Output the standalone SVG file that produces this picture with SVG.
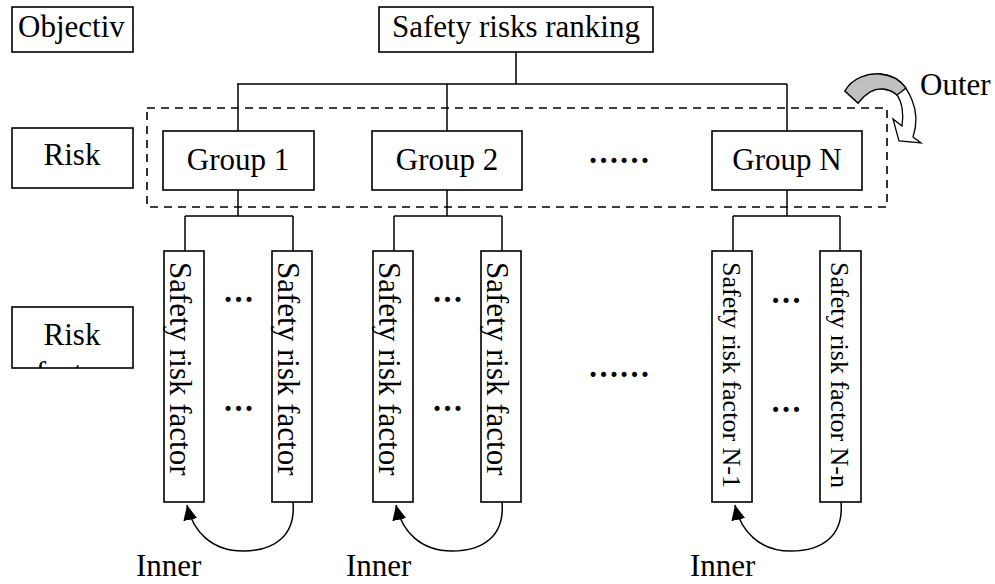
<svg xmlns="http://www.w3.org/2000/svg" width="995" height="584" viewBox="0 0 995 584">
<style>
text{font-family:"Liberation Serif","Times New Roman",serif;font-size:31px;fill:#000}
.box{fill:#fff;stroke:#000;stroke-width:1.6}
.ln{fill:none;stroke:#000;stroke-width:1.5}
.mid{text-anchor:middle}
.small{font-size:26px}
.dots{text-anchor:middle;font-weight:bold}
.dash{fill:none;stroke:#000;stroke-width:1.6;stroke-dasharray:8 6}
</style>
<defs>
<marker id="ah" markerUnits="userSpaceOnUse" markerWidth="16" markerHeight="14" refX="15" refY="7" orient="auto">
<path d="M0,0 L15,7 L0,14 z" fill="#000"/>
</marker>
<clipPath id="clipRF"><rect x="12" y="307" width="121" height="61"/></clipPath>
</defs>

<g id="labels">
<g id="objective"><rect class="box" x="12" y="7" width="121" height="45"/><text x="18" y="37">Objectiv</text></g>
<g id="risk-groups-label"><rect class="box" x="12" y="128" width="121" height="60"/><text class="mid" x="72" y="165">Risk</text></g>
<g id="risk-factors-label"><rect class="box" x="12" y="307" width="121" height="61"/><g clip-path="url(#clipRF)"><text class="mid" x="72" y="345">Risk</text><text class="mid" x="72" y="383">factor</text></g></g>
</g>

<rect id="outer-region" class="dash" x="147" y="108" width="740" height="99"/>

<g id="connectors">
<path class="ln" d="M516,52 V84 M237,84 H787 M238,84 V131 M447,84 V131 M787,84 V131"/>
<path class="ln" d="M238,190 V216 M185,216 H293 M185,216 V251 M293,216 V251"/>
<path class="ln" d="M447,190 V216 M394,216 H502 M394,216 V251 M502,216 V251"/>
<path class="ln" d="M787,190 V216 M733,216 H840 M733,216 V251 M840,216 V251"/>
<path class="ln" marker-end="url(#ah)" d="M293,502 C296,536 274,551 243,551 C212,551 193,532 187,505"/>
<path class="ln" marker-end="url(#ah)" d="M502,502 C505,536 483,551 452,551 C421,551 402,532 396,505"/>
<path class="ln" marker-end="url(#ah)" d="M841,502 C844,536 822,551 791,551 C760,551 741,532 735,505"/>
</g>

<g id="ranking"><rect class="box" x="379" y="7" width="274" height="45"/><text class="mid" x="516" y="37">Safety risks ranking</text></g>

<g id="group1"><rect class="box" x="163" y="131" width="151" height="59"/><text class="mid" x="238" y="170">Group 1</text></g>
<g id="group2"><rect class="box" x="372" y="131" width="150" height="59"/><text class="mid" x="447" y="170">Group 2</text></g>
<g id="groupN"><rect class="box" x="712" y="131" width="150" height="59"/><text class="mid" x="787" y="170">Group N</text></g>
<text class="dots" x="619" y="163">……</text>

<g id="g1-f1"><rect class="box" x="164" y="251" width="40" height="251"/><text transform="translate(170,262) rotate(90)">Safety risk factor</text></g>
<g id="g1-fn"><rect class="box" x="272" y="251" width="40" height="251"/><text transform="translate(278,262) rotate(90)">Safety risk factor</text></g>
<text class="dots" x="238.5" y="302">…</text>
<text class="dots" x="238.5" y="411">…</text>

<g id="g2-f1"><rect class="box" x="373" y="251" width="40" height="251"/><text transform="translate(379,262) rotate(90)">Safety risk factor</text></g>
<g id="g2-fn"><rect class="box" x="481" y="251" width="40" height="251"/><text transform="translate(487,262) rotate(90)">Safety risk factor</text></g>
<text class="dots" x="447.5" y="302">…</text>
<text class="dots" x="447.5" y="411">…</text>

<text class="dots" x="619" y="377">……</text>

<g id="gN-f1"><rect class="box" x="712" y="251" width="40" height="251"/><text class="small" transform="translate(723,262) rotate(90)">Safety risk factor N-1</text></g>
<g id="gN-fn"><rect class="box" x="820" y="251" width="41" height="251"/><text class="small" transform="translate(831,262) rotate(90)">Safety risk factor N-n</text></g>
<text class="dots" x="786" y="303">…</text>
<text class="dots" x="786" y="412">…</text>

<g id="outer-arrow">
<path fill="#fff" stroke="#000" stroke-width="1.3" d="M845,91 C852,78 868,73 880,74 C895,75 906,85 912,100 C917,112 917,125 913,137 L921,143 L899,141 L893,119 L902,126 C904,114 902,102 897,95 C889,88 878,87 870,92 C865,95 861,99 858,103 Z"/>
<path fill="#c0c0c0" stroke="#000" stroke-width="1.3" d="M845,91 C852,78 868,73 880,74 C892,75 901,81 906,88 L897,95 C889,88 878,87 870,92 C865,95 861,99 858,103 Z"/>
</g>
<text x="920" y="95">Outer</text>

<text x="136" y="576">Inner</text>
<text x="346" y="576">Inner</text>
<text x="690" y="576">Inner</text>
</svg>
